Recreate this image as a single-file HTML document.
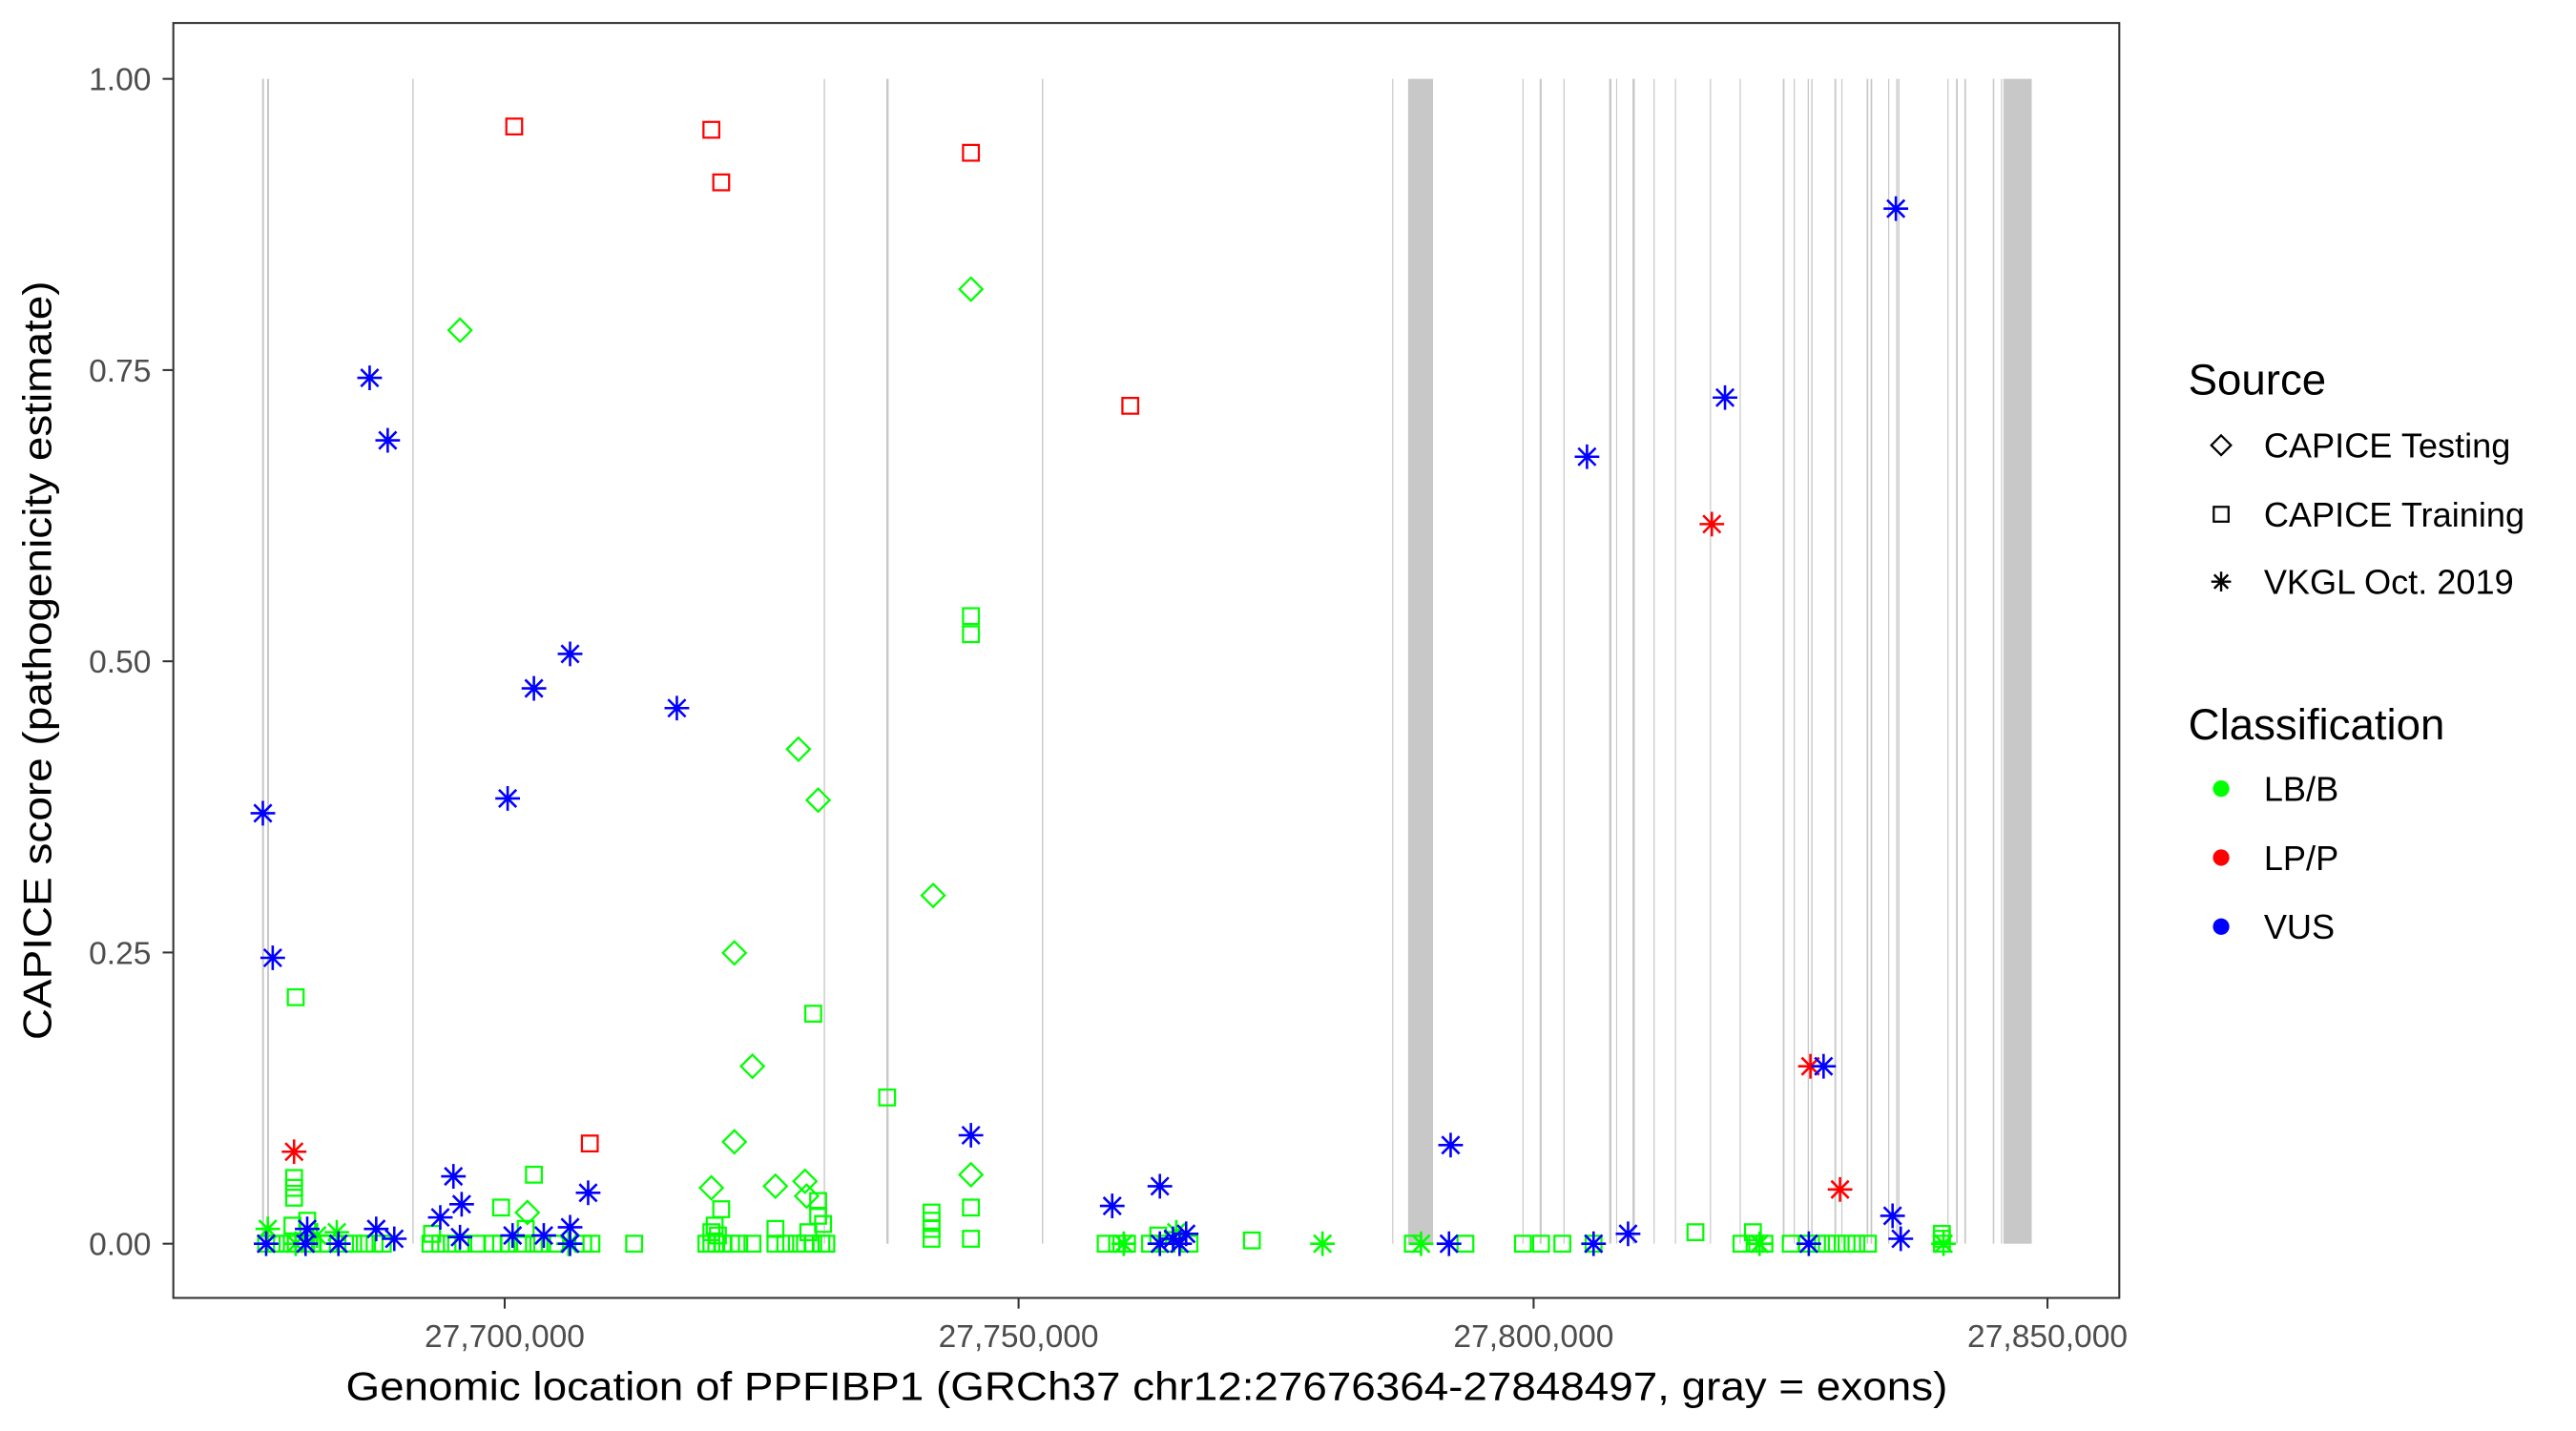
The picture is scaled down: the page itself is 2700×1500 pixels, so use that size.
<!DOCTYPE html>
<html><head><meta charset="utf-8"><style>
html,body{margin:0;padding:0;background:#fff}
svg{display:block}
text{font-family:"Liberation Sans",Arial,sans-serif}
</style></head><body>
<svg width="2700" height="1500" viewBox="0 0 1568 871" preserveAspectRatio="none" xmlns="http://www.w3.org/2000/svg">
<defs>
<rect id="sq" x="-4.8" y="-4.8" width="9.6" height="9.6" fill="none" stroke-width="1.3"/>
<path id="di" d="M0,-7L7,0L0,7L-7,0Z" fill="none" stroke-width="1.3"/>
<path id="st" d="M-7.5,0H7.5M0,-7.5V7.5M-5.3,-5.3L5.3,5.3M-5.3,5.3L5.3,-5.3" fill="none" stroke-width="1.5"/>
</defs>
<rect x="0" y="0" width="1568" height="871" fill="#fff"/>
<g fill="#c8c8c8">
<rect x="159.5" y="48" width="1.2" height="709"/><rect x="162.6" y="48" width="1.2" height="709"/>
<rect x="251" y="48" width="0.8" height="709"/><rect x="501.4" y="48" width="0.8" height="709"/>
<rect x="539.5" y="48" width="1.4" height="709"/><rect x="634.2" y="48" width="0.8" height="709"/>
<rect x="847.4" y="48" width="0.7" height="709"/><rect x="857.1" y="48" width="15.2" height="709"/>
<rect x="926.7" y="48" width="0.7" height="709"/><rect x="937.2" y="48" width="1.2" height="709"/>
<rect x="951.7" y="48" width="0.7" height="709"/><rect x="979.5" y="48" width="1.4" height="709"/>
<rect x="983.7" y="48" width="0.7" height="709"/><rect x="993.7" y="48" width="1.4" height="709"/>
<rect x="1006.5" y="48" width="0.7" height="709"/><rect x="1019.5" y="48" width="0.7" height="709"/>
<rect x="1040.8" y="48" width="0.7" height="709"/><rect x="1058.9" y="48" width="0.7" height="709"/>
<rect x="1085.2" y="48" width="1" height="709"/><rect x="1091.8" y="48" width="0.7" height="709"/>
<rect x="1100.3" y="48" width="0.8" height="709"/><rect x="1102.5" y="48" width="0.8" height="709"/>
<rect x="1116.6" y="48" width="1.1" height="709"/><rect x="1120.8" y="48" width="0.7" height="709"/>
<rect x="1136.2" y="48" width="1" height="709"/><rect x="1138.6" y="48" width="1" height="709"/>
<rect x="1149.3" y="48" width="0.7" height="709"/><rect x="1154.2" y="48" width="0.8" height="709"/>
<rect x="1155.4" y="48" width="0.8" height="709"/><rect x="1185.4" y="48" width="0.7" height="709"/>
<rect x="1190.6" y="48" width="1.1" height="709"/><rect x="1195.7" y="48" width="1" height="709"/>
<rect x="1213" y="48" width="0.9" height="709"/><rect x="1218" y="48" width="0.7" height="709"/>
<rect x="1219.5" y="48" width="17.2" height="709"/>
</g>
<g stroke="#00ff00">
<use href="#sq" x="180" y="607"/><use href="#sq" x="495" y="617"/><use href="#sq" x="540" y="668"/>
<use href="#sq" x="591" y="375"/><use href="#sq" x="591" y="386"/><use href="#sq" x="591" y="735"/><use href="#sq" x="591" y="754"/>
<use href="#sq" x="179" y="717"/><use href="#sq" x="179" y="723"/><use href="#sq" x="179" y="729"/><use href="#sq" x="187" y="743"/><use href="#sq" x="178" y="746"/>
<use href="#sq" x="305" y="735"/><use href="#sq" x="325" y="715"/><use href="#sq" x="320" y="748"/><use href="#sq" x="263" y="751"/>
<use href="#sq" x="567" y="738"/><use href="#sq" x="567" y="743"/><use href="#sq" x="567" y="748"/><use href="#sq" x="567" y="754"/>
<use href="#sq" x="498" y="731"/><use href="#sq" x="498" y="740"/><use href="#sq" x="501" y="745"/><use href="#sq" x="492" y="750"/>
<use href="#sq" x="439" y="736"/><use href="#sq" x="435" y="746"/><use href="#sq" x="433" y="750"/><use href="#sq" x="437" y="752"/><use href="#sq" x="472" y="748"/>
<use href="#sq" x="1032" y="750"/><use href="#sq" x="1067" y="750"/><use href="#sq" x="762" y="755"/><use href="#sq" x="1182" y="751"/><use href="#sq" x="705" y="752"/>
<use href="#sq" x="162" y="757"/><use href="#sq" x="168" y="757"/><use href="#sq" x="175" y="757"/><use href="#sq" x="180" y="757"/><use href="#sq" x="185" y="757"/>
<use href="#sq" x="190" y="757"/><use href="#sq" x="196" y="757"/><use href="#sq" x="200" y="757"/><use href="#sq" x="210" y="757"/><use href="#sq" x="215" y="757"/>
<use href="#sq" x="222" y="757"/><use href="#sq" x="228" y="757"/><use href="#sq" x="233" y="757"/><use href="#sq" x="262" y="757"/><use href="#sq" x="268" y="757"/>
<use href="#sq" x="275" y="757"/><use href="#sq" x="282" y="757"/><use href="#sq" x="290" y="757"/><use href="#sq" x="300" y="757"/><use href="#sq" x="305" y="757"/>
<use href="#sq" x="310" y="757"/><use href="#sq" x="318" y="757"/><use href="#sq" x="325" y="757"/><use href="#sq" x="330" y="757"/><use href="#sq" x="338" y="757"/>
<use href="#sq" x="355" y="757"/><use href="#sq" x="360" y="757"/><use href="#sq" x="386" y="757"/><use href="#sq" x="430" y="757"/><use href="#sq" x="433" y="757"/>
<use href="#sq" x="436" y="757"/><use href="#sq" x="440" y="757"/><use href="#sq" x="445" y="757"/><use href="#sq" x="450" y="757"/><use href="#sq" x="458" y="757"/>
<use href="#sq" x="472" y="757"/><use href="#sq" x="478" y="757"/><use href="#sq" x="485" y="757"/><use href="#sq" x="490" y="757"/><use href="#sq" x="495" y="757"/>
<use href="#sq" x="500" y="757"/><use href="#sq" x="503" y="757"/><use href="#sq" x="673" y="757"/><use href="#sq" x="680" y="757"/><use href="#sq" x="686" y="757"/>
<use href="#sq" x="700" y="757"/><use href="#sq" x="710" y="757"/><use href="#sq" x="724" y="757"/><use href="#sq" x="860" y="757"/><use href="#sq" x="892" y="757"/>
<use href="#sq" x="927" y="757"/><use href="#sq" x="938" y="757"/><use href="#sq" x="951" y="757"/><use href="#sq" x="970" y="757"/><use href="#sq" x="1060" y="757"/>
<use href="#sq" x="1068" y="757"/><use href="#sq" x="1074" y="757"/><use href="#sq" x="1090" y="757"/><use href="#sq" x="1100" y="757"/><use href="#sq" x="1106" y="757"/>
<use href="#sq" x="1112" y="757"/><use href="#sq" x="1118" y="757"/><use href="#sq" x="1124" y="757"/><use href="#sq" x="1130" y="757"/><use href="#sq" x="1137" y="757"/>
<use href="#sq" x="1182" y="757"/><use href="#sq" x="1182" y="754"/>
</g>
<g stroke="#00ff00">
<use href="#di" x="280" y="201"/><use href="#di" x="591" y="176"/><use href="#di" x="486" y="456"/><use href="#di" x="498" y="487"/>
<use href="#di" x="568" y="545"/><use href="#di" x="447" y="580"/><use href="#di" x="458" y="649"/><use href="#di" x="447" y="695"/>
<use href="#di" x="433" y="723"/><use href="#di" x="472" y="722"/><use href="#di" x="490" y="719"/><use href="#di" x="491" y="728"/>
<use href="#di" x="591" y="715"/><use href="#di" x="321" y="738"/>
</g>
<g stroke="#00ff00">
<use href="#st" x="163" y="748"/><use href="#st" x="205" y="750"/><use href="#st" x="193" y="752"/><use href="#st" x="805" y="757"/><use href="#st" x="865" y="757"/>
<use href="#st" x="716" y="750"/><use href="#st" x="1071" y="757"/><use href="#st" x="180" y="757"/><use href="#st" x="1183" y="757"/><use href="#st" x="684" y="757"/><use href="#st" x="346" y="757"/>
</g>
<g stroke="#ff0000">
<use href="#sq" x="313" y="77"/><use href="#sq" x="433" y="79"/><use href="#sq" x="439" y="111"/><use href="#sq" x="591" y="93"/>
<use href="#sq" x="688" y="247"/><use href="#sq" x="359" y="696"/>
<use href="#st" x="179" y="701"/><use href="#st" x="1042" y="319"/><use href="#st" x="1102" y="649"/><use href="#st" x="1120" y="724"/>
</g>
<g stroke="#0000ff">
<use href="#st" x="160" y="495"/><use href="#st" x="166" y="583"/><use href="#st" x="225" y="230"/><use href="#st" x="236" y="268"/>
<use href="#st" x="309" y="486"/><use href="#st" x="325" y="419"/><use href="#st" x="347" y="398"/><use href="#st" x="412" y="431"/>
<use href="#st" x="591" y="691"/><use href="#st" x="677" y="734"/><use href="#st" x="706" y="722"/><use href="#st" x="883" y="697"/>
<use href="#st" x="966" y="278"/><use href="#st" x="1050" y="242"/><use href="#st" x="1154" y="127"/><use href="#st" x="1110" y="649"/>
<use href="#st" x="1152" y="740"/><use href="#st" x="276" y="716"/><use href="#st" x="281" y="733"/><use href="#st" x="268" y="741"/>
<use href="#st" x="358" y="726"/><use href="#st" x="229" y="748"/><use href="#st" x="187" y="748"/><use href="#st" x="162" y="757"/>
<use href="#st" x="186" y="757"/><use href="#st" x="206" y="757"/><use href="#st" x="240" y="754"/><use href="#st" x="280" y="753"/>
<use href="#st" x="312" y="752"/><use href="#st" x="331" y="752"/><use href="#st" x="347" y="747"/><use href="#st" x="347" y="757"/>
<use href="#st" x="706" y="757"/><use href="#st" x="714" y="754"/><use href="#st" x="722" y="751"/><use href="#st" x="718" y="757"/>
<use href="#st" x="882" y="757"/><use href="#st" x="970" y="757"/><use href="#st" x="991" y="751"/><use href="#st" x="1101" y="757"/><use href="#st" x="1157" y="754"/>
</g>
<rect x="105.5" y="14" width="1184.5" height="776" fill="none" stroke="#333" stroke-width="1.2"/>
<g stroke="#333" stroke-width="1.2">
<line x1="99" y1="48" x2="105.5" y2="48"/><line x1="99" y1="225.25" x2="105.5" y2="225.25"/>
<line x1="99" y1="402.5" x2="105.5" y2="402.5"/><line x1="99" y1="579.75" x2="105.5" y2="579.75"/>
<line x1="99" y1="757" x2="105.5" y2="757"/>
<line x1="307.2" y1="790" x2="307.2" y2="796.5"/><line x1="620" y1="790" x2="620" y2="796.5"/>
<line x1="933.5" y1="790" x2="933.5" y2="796.5"/><line x1="1246.3" y1="790" x2="1246.3" y2="796.5"/>
</g>
<g fill="#4d4d4d" font-size="19.5" text-anchor="end">
<text x="92" y="55">1.00</text><text x="92" y="232.2">0.75</text><text x="92" y="409.5">0.50</text>
<text x="92" y="586.7">0.25</text><text x="92" y="764">0.00</text>
</g>
<g fill="#4d4d4d" font-size="19.5" text-anchor="middle">
<text x="307.2" y="820">27,700,000</text><text x="620" y="820">27,750,000</text>
<text x="933.5" y="820">27,800,000</text><text x="1246.3" y="820">27,850,000</text>
</g>
<text x="698" y="852" font-size="24" text-anchor="middle" textLength="975" lengthAdjust="spacingAndGlyphs">Genomic location of PPFIBP1 (GRCh37 chr12:27676364-27848497, gray = exons)</text>
<text transform="translate(31,402) rotate(-90)" font-size="24" text-anchor="middle" textLength="462" lengthAdjust="spacingAndGlyphs">CAPICE score (pathogenicity estimate)</text>
<text x="1332" y="240" font-size="26.5">Source</text>
<g font-size="21">
<text x="1378" y="278.5">CAPICE Testing</text><text x="1378" y="320.5">CAPICE Training</text><text x="1378" y="361.5">VKGL Oct. 2019</text>
<text x="1378" y="487.5">LB/B</text><text x="1378" y="529.5">LP/P</text><text x="1378" y="571.5">VUS</text>
</g>
<text x="1332" y="450" font-size="26.5">Classification</text>
<g stroke="#000">
<path d="M1352,265L1358,271L1352,277L1346,271Z" fill="none" stroke-width="1.3"/>
<rect x="1347.5" y="308.5" width="9" height="9" fill="none" stroke-width="1.3"/>
<path d="M1346,354H1358M1352,348V360M1347.8,349.8L1356.2,358.2M1347.8,358.2L1356.2,349.8" stroke-width="1.4"/>
</g>
<ellipse cx="1352" cy="480" rx="5" ry="5" fill="#00ff00"/>
<ellipse cx="1352" cy="522" rx="5" ry="5" fill="#ff0000"/>
<ellipse cx="1352" cy="564" rx="5" ry="5" fill="#0000ff"/>
</svg>
</body></html>
